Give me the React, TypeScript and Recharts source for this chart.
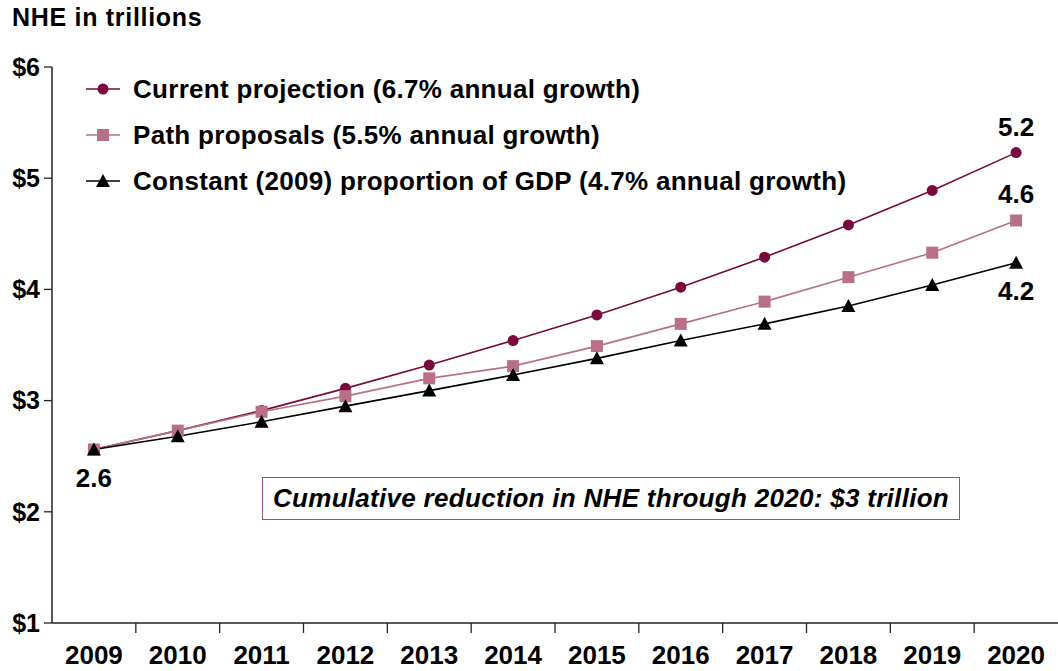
import React from 'react';
import { LineChart, Line, XAxis, YAxis, LabelList } from 'recharts';

const YEARS = ['2009', '2010', '2011', '2012', '2013', '2014', '2015', '2016', '2017', '2018', '2019', '2020'];
const CURRENT = [2.56, 2.73, 2.91, 3.11, 3.32, 3.54, 3.77, 4.02, 4.29, 4.58, 4.89, 5.23];
const PATH = [2.56, 2.73, 2.9, 3.04, 3.2, 3.31, 3.49, 3.69, 3.89, 4.11, 4.33, 4.62];
const CONSTANT = [2.56, 2.68, 2.81, 2.95, 3.09, 3.23, 3.38, 3.54, 3.69, 3.85, 4.04, 4.24];
const Y_TICKS = [1, 2, 3, 4, 5, 6];

const SERIES = [
  { key: 'current', name: 'Current projection (6.7% annual growth)', color: '#7a0a3e', shape: 'circle' },
  { key: 'path', name: 'Path proposals (5.5% annual growth)', color: '#b87088', shape: 'square' },
  { key: 'constant', name: 'Constant (2009) proportion of GDP (4.7% annual growth)', color: '#000000', shape: 'triangle' },
];

const data = YEARS.map((year, i) => ({
  year,
  current: CURRENT[i],
  path: PATH[i],
  constant: CONSTANT[i],
}));

const W = 1058;
const H = 671;
const PLOT_LEFT = 52;
const PLOT_W = W - PLOT_LEFT;
const HALF_BAND = PLOT_W / YEARS.length / 2;
const FONT = '"Liberation Sans", Arial, sans-serif';

function Marker({ cx, cy, shape, color }: any) {
  if (cx == null || cy == null) return null;
  if (shape === 'circle') return <circle cx={cx} cy={cy} r={5.5} fill={color} />;
  if (shape === 'square') return <rect x={cx - 6} y={cy - 6} width={12} height={12} fill={color} />;
  return <polygon points={`${cx},${cy - 7} ${cx + 7},${cy + 6} ${cx - 7},${cy + 6}`} fill={color} />;
}

const XTick = ({ x, y, payload, index }: any) => (
  <g>
    {index < YEARS.length - 1 && (
      <line x1={x + HALF_BAND} x2={x + HALF_BAND} y1={y} y2={y + 10} stroke="#222" strokeWidth={1.3} />
    )}
    <text x={x} y={y + 41} textAnchor="middle" fill="#000" fontSize={26} fontWeight="bold" fontFamily={FONT}>
      {payload.value}
    </text>
  </g>
);

const endLabel = (pos: 'above' | 'below', idx: number) => (props: any) => {
  const { x, y, index, value } = props;
  if (index !== idx) return null;
  return (
    <text
      x={x}
      y={pos === 'above' ? y - 17 : y + 37}
      textAnchor="middle"
      fill="#000"
      fontSize={26}
      fontWeight="bold"
      fontFamily={FONT}
    >
      {Number(value).toFixed(1)}
    </text>
  );
};

function LegendBox() {
  return (
    <div
      style={{
        position: 'absolute',
        left: 86,
        top: 66,
        fontFamily: FONT,
        fontSize: 26,
        letterSpacing: 0.3,
        fontWeight: 'bold',
      }}
    >
      {SERIES.map((s) => (
        <div key={s.key} style={{ display: 'flex', alignItems: 'center', height: 46 }}>
          <svg width={36} height={20} style={{ marginRight: 11 }}>
            <line x1={0} x2={34} y1={10} y2={10} stroke={s.color} strokeWidth={1.5} />
            <Marker cx={17} cy={10} shape={s.shape} color={s.color} />
          </svg>
          <span>{s.name}</span>
        </div>
      ))}
    </div>
  );
}

export default function App() {
  return (
    <div style={{ position: 'absolute', left: 0, top: 0, width: W, height: H, background: '#fff', fontFamily: FONT }}>
      <div style={{ position: 'absolute', left: 12, top: 3, fontSize: 25, letterSpacing: 0.7, fontWeight: 'bold' }}>
        NHE in trillions
      </div>
      <LineChart width={W} height={H} data={data} margin={{ top: 67, right: 0, bottom: 0, left: 0 }}>
        <XAxis
          dataKey="year"
          scale="band"
          height={48}
          axisLine={{ stroke: '#222', strokeWidth: 1.5 }}
          tickLine={false}
          tickSize={0}
          tickMargin={0}
          interval={0}
          tick={<XTick />}
        />
        <YAxis
          domain={[1, 6]}
          ticks={Y_TICKS}
          width={52}
          interval={0}
          tickFormatter={(v: number) => `$${v}`}
          axisLine={{ stroke: '#222', strokeWidth: 1.5 }}
          tickLine={{ stroke: '#222', strokeWidth: 1.3 }}
          tickSize={8}
          tickMargin={4}
          tick={{ fill: '#000', fontSize: 25, fontWeight: 'bold', fontFamily: FONT }}
        />
        {SERIES.map((s) => (
          <Line
            key={s.key}
            dataKey={s.key}
            stroke={s.color}
            strokeWidth={1.6}
            isAnimationActive={false}
            dot={(p: any) => <Marker key={`${s.key}-${p.index}`} cx={p.cx} cy={p.cy} shape={s.shape} color={s.color} />}
            activeDot={false}
          >
            {s.key === 'current' && <LabelList dataKey="current" content={endLabel('above', YEARS.length - 1)} />}
            {s.key === 'path' && <LabelList dataKey="path" content={endLabel('above', YEARS.length - 1)} />}
            {s.key === 'constant' && <LabelList dataKey="constant" content={endLabel('below', YEARS.length - 1)} />}
            {s.key === 'constant' && <LabelList dataKey="constant" content={endLabel('below', 0)} />}
          </Line>
        ))}
      </LineChart>
      <LegendBox />
      <div
        style={{
          position: 'absolute',
          left: 262,
          top: 477,
          width: 698,
          height: 43,
          boxSizing: 'border-box',
          border: '1.5px solid #a0507a',
          display: 'flex',
          alignItems: 'center',
          justifyContent: 'center',
          fontSize: 26,
          letterSpacing: 0.3,
          fontWeight: 'bold',
          fontStyle: 'italic',
        }}
      >
        Cumulative reduction in NHE through 2020: $3 trillion
      </div>
    </div>
  );
}
